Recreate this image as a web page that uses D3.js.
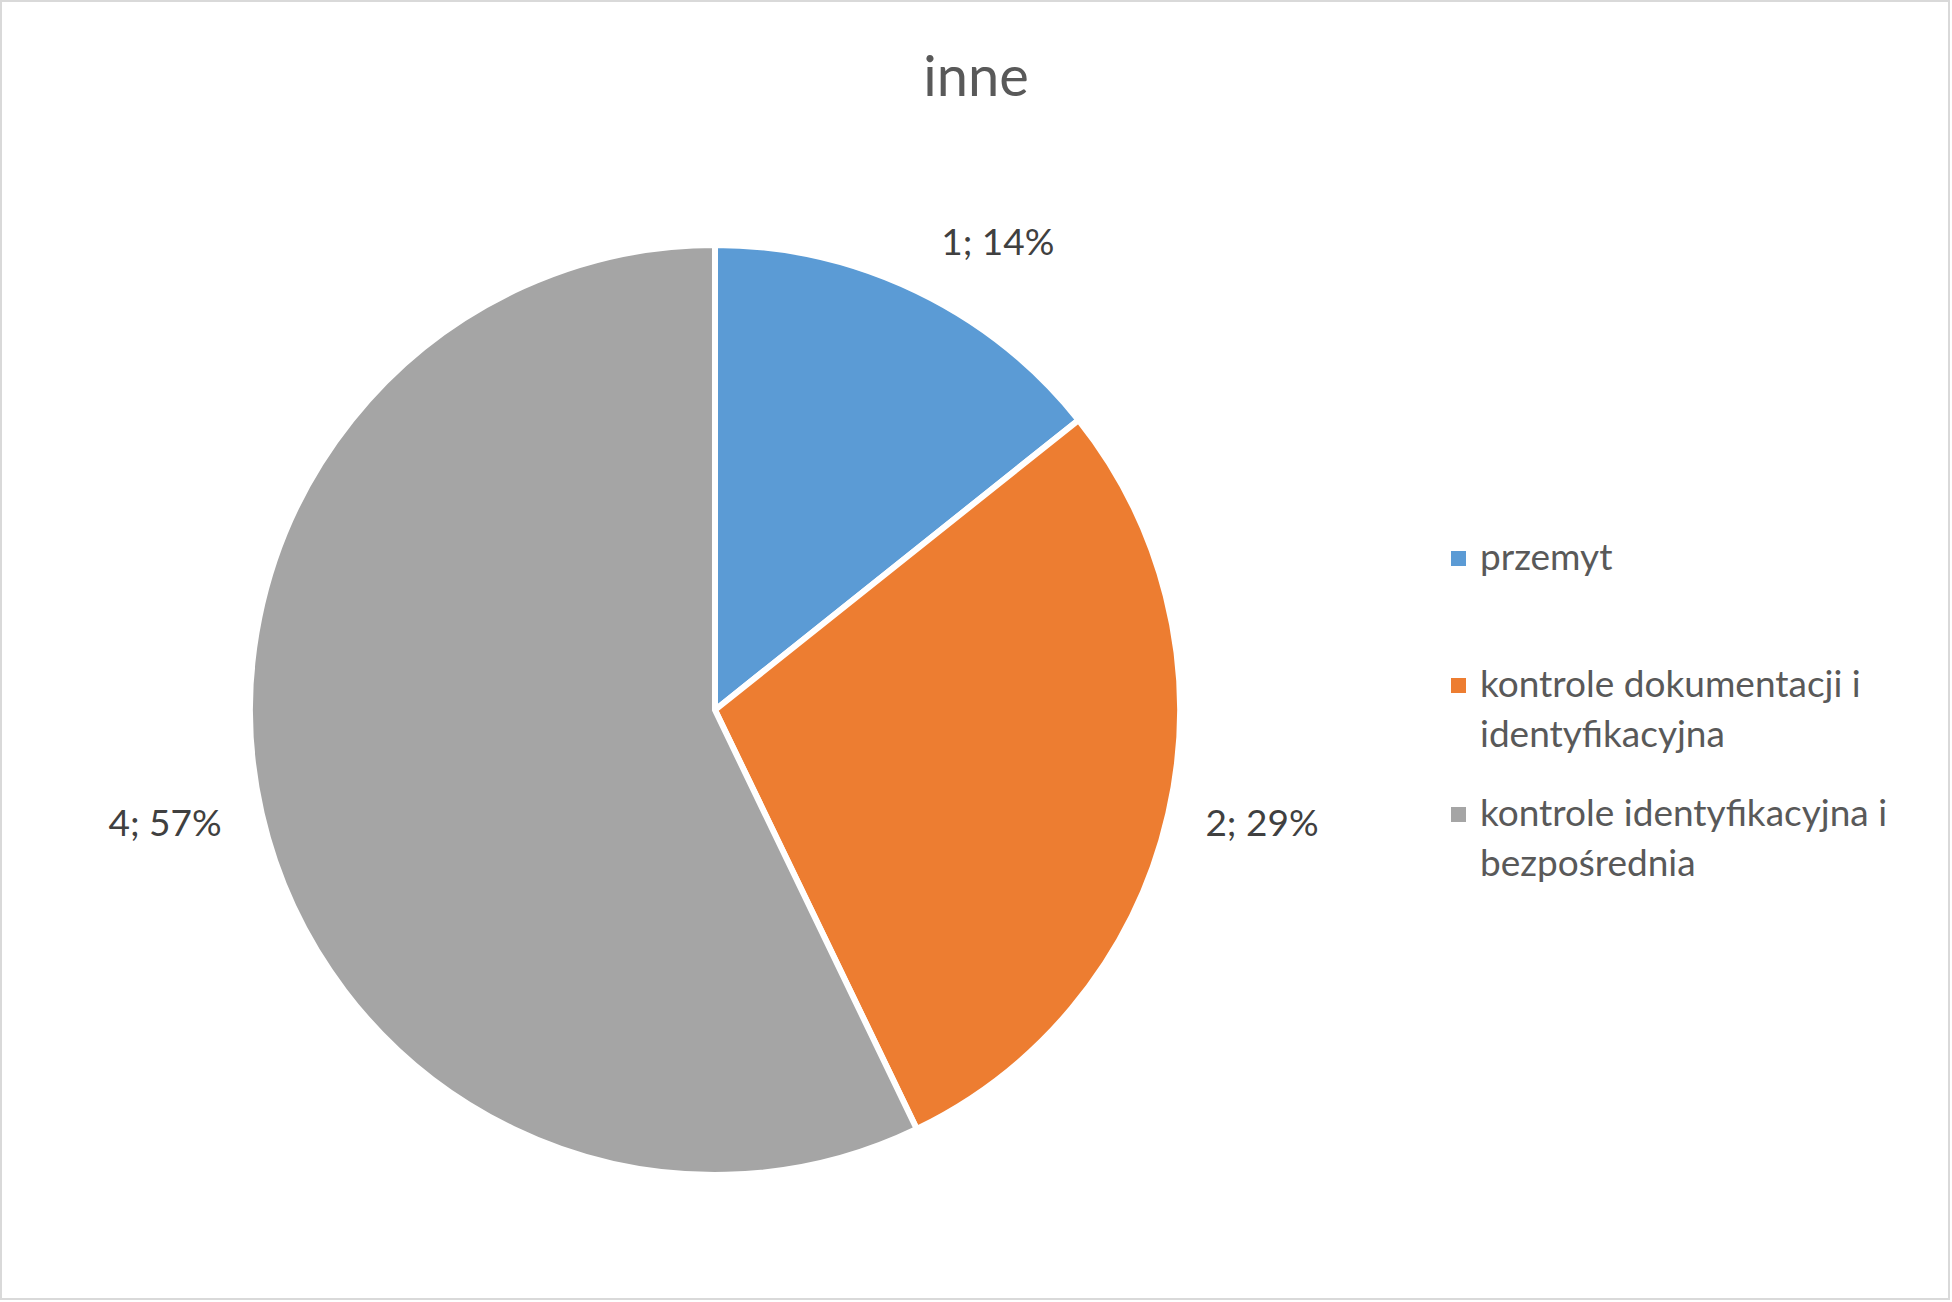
<!DOCTYPE html>
<html>
<head>
<meta charset="utf-8">
<script src="https://cdn.jsdelivr.net/npm/d3@7"></script>
<style>
  html, body { margin: 0; padding: 0; background: #fff; }
  svg { display: block; font-family: Lato, "Open Sans", sans-serif; }
</style>
</head>
<body>
<div id="chart"></div>
<script>
var title = 'inne';
var categories = ['przemyt', 'kontrole dokumentacji i identyfikacyjna', 'kontrole identyfikacyjna i bezpośrednia'];
var values = [1, 2, 4];
var colors = ['#5B9BD5', '#ED7D31', '#A5A5A5'];

var W = 1952, H = 1302;
var cx = 715, cy = 710, radius = 465;

var svg = d3.select('#chart')
    .append('svg')
    .attr('width', W)
    .attr('height', H);

// chart area border
svg.append('rect')
    .attr('x', 1).attr('y', 1)
    .attr('width', W - 4).attr('height', H - 4)
    .attr('fill', '#fff')
    .attr('stroke', '#d9d9d9')
    .attr('stroke-width', 2);

svg.append('text')
    .attr('x', W / 2)
    .attr('y', 96)
    .attr('text-anchor', 'middle')
    .attr('font-size', 56)
    .attr('fill', '#595959')
    .text(title);

var data = categories.map(function(c, i) {
    return { name: c, value: values[i], color: colors[i] };
});
var total = d3.sum(values);

var pie = d3.pie()
    .sort(null)
    .value(function(d) { return d.value; });

var arc = d3.arc().innerRadius(0).outerRadius(radius);

var g = svg.append('g')
    .attr('transform', 'translate(' + cx + ',' + cy + ')');

var arcs = pie(data);

g.selectAll('path.slice')
    .data(arcs)
    .enter()
    .append('path')
    .attr('class', 'slice')
    .attr('d', arc)
    .attr('fill', function(d) { return d.data.color; })
    .attr('stroke', '#fff')
    .attr('stroke-width', 6)
    .attr('stroke-linejoin', 'round');

// data labels, outside end
var labelR = radius + 38;
g.selectAll('text.lbl')
    .data(arcs)
    .enter()
    .append('text')
    .attr('class', 'lbl')
    .attr('font-size', 37)
    .attr('fill', '#404040')
    .each(function(d) {
        var a = (d.startAngle + d.endAngle) / 2;
        var s = Math.sin(a), c = Math.cos(a);
        var px = s * labelR, py = -c * labelR;
        var anchor = s > 0.3 ? 'start' : (s < -0.3 ? 'end' : 'middle');
        var by;
        if (c > 0.3) {
            by = py - 2;
            px += 8;
        } else if (c < -0.3) {
            by = py + 28;
        } else {
            by = py + 14;
        }
        if (anchor === 'end') px -= 3;
        d3.select(this)
            .attr('x', px)
            .attr('y', by)
            .attr('text-anchor', anchor)
            .text(d.data.value + '; ' + Math.round(d.data.value / total * 100) + '%');
    });

// legend
var legendX = 1451, legendTops = [551, 678, 807];
var maxW = 450;
var leg = svg.append('g');

data.forEach(function(d, i) {
    var item = leg.append('g');
    item.append('rect')
        .attr('x', legendX)
        .attr('y', legendTops[i])
        .attr('width', 15)
        .attr('height', 15)
        .attr('fill', d.color);

    var t = item.append('text')
        .attr('font-size', 37)
        .attr('fill', '#595959');
    var words = d.name.split(' ');
    var line = [];
    var lineNo = 0;
    var ts = t.append('tspan').attr('x', legendX + 29).attr('y', legendTops[i] + 19);
    words.forEach(function(w) {
        line.push(w);
        ts.text(line.join(' '));
        if (ts.node().getComputedTextLength() > maxW && line.length > 1) {
            line.pop();
            ts.text(line.join(' '));
            line = [w];
            lineNo++;
            ts = t.append('tspan')
                .attr('x', legendX + 29)
                .attr('y', legendTops[i] + 19 + lineNo * 50)
                .text(w);
        }
    });
});
</script>
</body>
</html>
